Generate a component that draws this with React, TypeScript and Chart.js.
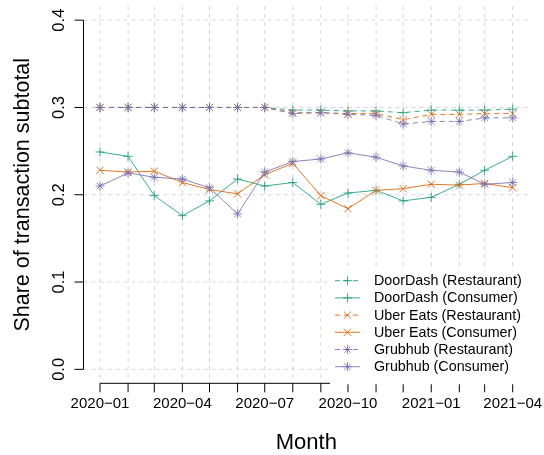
import React, { useEffect, useRef } from 'react';
import { Chart, registerables } from 'chart.js';

Chart.register(...registerables);

// ---- data ----
const months = [
  '2020-01', '2020-02', '2020-03', '2020-04', '2020-05', '2020-06', '2020-07', '2020-08',
  '2020-09', '2020-10', '2020-11', '2020-12', '2021-01', '2021-02', '2021-03', '2021-04',
];
const labeledMonths = ['2020-01', '2020-04', '2020-07', '2020-10', '2021-01', '2021-04'];
const yTicks = [0, 0.1, 0.2, 0.3, 0.4];

const doordashRestaurant = [0.300, 0.300, 0.300, 0.300, 0.300, 0.300, 0.300, 0.297, 0.297, 0.296, 0.296, 0.294, 0.297, 0.297, 0.297, 0.298];
const doordashConsumer = [0.249, 0.244, 0.199, 0.176, 0.193, 0.218, 0.210, 0.214, 0.189, 0.202, 0.205, 0.193, 0.197, 0.212, 0.228, 0.244];
const ubereatsRestaurant = [0.300, 0.300, 0.300, 0.300, 0.300, 0.300, 0.300, 0.294, 0.294, 0.293, 0.293, 0.286, 0.292, 0.292, 0.293, 0.293];
const ubereatsConsumer = [0.228, 0.226, 0.227, 0.214, 0.206, 0.201, 0.223, 0.236, 0.199, 0.184, 0.205, 0.207, 0.212, 0.211, 0.213, 0.208];
const grubhubRestaurant = [0.300, 0.300, 0.300, 0.300, 0.300, 0.300, 0.300, 0.293, 0.294, 0.292, 0.291, 0.281, 0.284, 0.284, 0.288, 0.288];
const grubhubConsumer = [0.210, 0.225, 0.220, 0.218, 0.208, 0.178, 0.226, 0.238, 0.241, 0.248, 0.243, 0.233, 0.228, 0.226, 0.212, 0.214];

const seriesNames = [
  'DoorDash (Restaurant)', 'DoorDash (Consumer)',
  'Uber Eats (Restaurant)', 'Uber Eats (Consumer)',
  'Grubhub (Restaurant)', 'Grubhub (Consumer)',
];
const seriesValues = [
  doordashRestaurant, doordashConsumer,
  ubereatsRestaurant, ubereatsConsumer,
  grubhubRestaurant, grubhubConsumer,
];
const seriesColors = [
  'rgba(27,158,119,0.85)', 'rgba(27,158,119,0.85)',
  'rgba(217,95,2,0.85)', 'rgba(217,95,2,0.85)',
  'rgba(117,112,179,0.85)', 'rgba(117,112,179,0.85)',
];
const seriesPoints = ['cross', 'cross', 'crossRot', 'crossRot', 'star', 'star'];
const seriesRadius = [4.5, 4.5, 5.2, 5.2, 4.6, 4.6];
const seriesDashed = [true, false, true, false, true, false];

const xTitle = 'Month';
const yTitle = 'Share of transaction subtotal';

// ---- helpers ----
const DAY = 86400000;
const origin = Date.UTC(2020, 0, 1);
const toDay = (m: string) => {
  const [yy, mm] = m.split('-').map(Number);
  return (Date.UTC(yy, mm - 1, 1) - origin) / DAY;
};
const monthDays = months.map(toDay);
const xMinData = monthDays[0];
const xMaxData = monthDays[monthDays.length - 1];
const xPad = (xMaxData - xMinData) * 0.04;
const yPad = 0.4 * 0.04;
const FONT = '"Liberation Sans", Arial, Helvetica, sans-serif';
const DASH = [5, 4];

function drawSymbol(ctx: CanvasRenderingContext2D, style: string, x: number, y: number, r: number) {
  ctx.beginPath();
  if (style === 'cross' || style === 'star') {
    ctx.moveTo(x - r, y); ctx.lineTo(x + r, y);
    ctx.moveTo(x, y - r); ctx.lineTo(x, y + r);
  }
  if (style === 'crossRot' || style === 'star') {
    const d = r * Math.SQRT1_2;
    ctx.moveTo(x - d, y - d); ctx.lineTo(x + d, y + d);
    ctx.moveTo(x - d, y + d); ctx.lineTo(x + d, y - d);
  }
  ctx.stroke();
}

const rPlot = {
  id: 'rPlot',
  beforeDatasetsDraw(chart: any) {
    const { ctx, chartArea: a, scales } = chart;
    const x = scales.x, y = scales.y;
    ctx.save();
    ctx.strokeStyle = '#d6d6d6';
    ctx.lineWidth = 1;
    ctx.setLineDash([4, 4]);
    ctx.beginPath();
    for (const d of monthDays) {
      const px = x.getPixelForValue(d);
      ctx.moveTo(px, a.top); ctx.lineTo(px, a.bottom);
    }
    for (const v of yTicks) {
      const py = y.getPixelForValue(v);
      ctx.moveTo(a.left, py); ctx.lineTo(a.right, py);
    }
    ctx.stroke();
    ctx.restore();
  },
  afterDatasetsDraw(chart: any) {
    const { ctx, chartArea: a, scales } = chart;
    const x = scales.x, y = scales.y;
    const tick = 9;
    ctx.save();
    ctx.setLineDash([]);
    ctx.strokeStyle = '#000';
    ctx.lineWidth = 1;
    ctx.fillStyle = '#000';

    // y axis
    const ax = a.left;
    const y0 = y.getPixelForValue(yTicks[0]);
    const y1 = y.getPixelForValue(yTicks[yTicks.length - 1]);
    ctx.beginPath();
    ctx.moveTo(ax, y0); ctx.lineTo(ax, y1);
    for (const v of yTicks) {
      const py = y.getPixelForValue(v);
      ctx.moveTo(ax, py); ctx.lineTo(ax - tick, py);
    }
    ctx.stroke();
    ctx.font = `16.5px ${FONT}`;
    ctx.textAlign = 'center';
    ctx.textBaseline = 'alphabetic';
    for (const v of yTicks) {
      const py = y.getPixelForValue(v);
      ctx.save();
      ctx.translate(64, py);
      ctx.rotate(-Math.PI / 2);
      ctx.fillText(v.toFixed(1), 0, 0);
      ctx.restore();
    }

    // x axis
    const ay = a.bottom;
    const x0 = x.getPixelForValue(monthDays[0]);
    const x1 = x.getPixelForValue(monthDays[monthDays.length - 1]);
    ctx.beginPath();
    ctx.moveTo(x0, ay); ctx.lineTo(x1, ay);
    for (const d of monthDays) {
      const px = x.getPixelForValue(d);
      ctx.moveTo(px, ay); ctx.lineTo(px, ay + tick);
    }
    ctx.stroke();
    ctx.font = `15px ${FONT}`;
    for (const m of labeledMonths) {
      const px = x.getPixelForValue(toDay(m));
      ctx.fillText(m.replace('-', '\u2212'), px, 407.5);
    }

    // titles
    ctx.font = `22px ${FONT}`;
    ctx.fillText(xTitle, (a.left + a.right) / 2, 449);
    ctx.save();
    ctx.translate(28.5, (a.top + a.bottom) / 2);
    ctx.rotate(-Math.PI / 2);
    ctx.font = `21.5px ${FONT}`;
    ctx.fillText(yTitle, 0, 0);
    ctx.restore();

    // legend (white background, bottom right of plot region)
    const bx = 330, by = 271;
    ctx.fillStyle = '#fff';
    ctx.fillRect(bx, by, a.right - bx, a.bottom + 1 - by);
    ctx.font = `14.3px ${FONT}`;
    ctx.textAlign = 'left';
    ctx.textBaseline = 'middle';
    seriesNames.forEach((name, i) => {
      const ry = 280.7 + i * 17.2;
      ctx.strokeStyle = seriesColors[i];
      ctx.lineWidth = 1;
      ctx.setLineDash(seriesDashed[i] ? DASH : []);
      ctx.beginPath();
      ctx.moveTo(335, ry); ctx.lineTo(360, ry);
      ctx.stroke();
      ctx.setLineDash([]);
      drawSymbol(ctx, seriesPoints[i], 347.5, ry, seriesRadius[i]);
      ctx.fillStyle = '#000';
      ctx.fillText(name, 374, ry + 0.5);
    });
    ctx.restore();
  },
};

export default function App() {
  const ref = useRef<HTMLCanvasElement | null>(null);
  useEffect(() => {
    if (!ref.current) return;
    const datasets = seriesNames.map((name, i) => ({
      label: name,
      data: seriesValues[i].map((v, j) => ({ x: monthDays[j], y: v })),
      borderColor: seriesColors[i],
      backgroundColor: seriesColors[i],
      borderWidth: 1,
      borderDash: seriesDashed[i] ? DASH : [],
      pointStyle: seriesPoints[i],
      pointRadius: seriesRadius[i],
      pointBorderWidth: 1,
      pointBorderColor: seriesColors[i],
      pointBackgroundColor: seriesColors[i],
      fill: false,
      tension: 0,
      order: seriesNames.length - i,
    }));
    const chart = new Chart(ref.current, {
      type: 'line',
      data: { datasets },
      options: {
        responsive: false,
        animation: false,
        parsing: true as any,
        layout: { padding: { left: 83.5, right: 14.8, top: 6, bottom: 71.7 } },
        plugins: { legend: { display: false }, tooltip: { enabled: false } },
        scales: {
          x: { type: 'linear', display: false, min: xMinData - xPad, max: xMaxData + xPad },
          y: { type: 'linear', display: false, min: -yPad, max: 0.4 + yPad },
        },
      },
      plugins: [rPlot as any],
    });
    return () => chart.destroy();
  }, []);
  return (
    <div style={{ position: 'fixed', left: 0, top: 0, width: 544, height: 455, background: '#fff' }}>
      <canvas ref={ref} width={544} height={455} style={{ width: 544, height: 455, display: 'block' }} />
    </div>
  );
}
